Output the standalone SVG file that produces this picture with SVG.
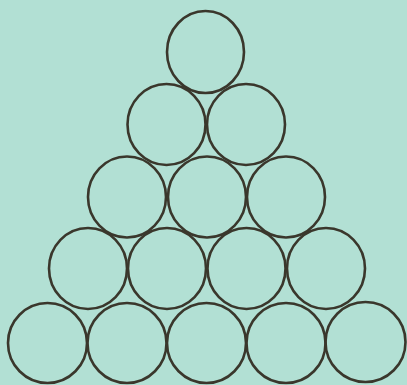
<svg xmlns="http://www.w3.org/2000/svg" width="407" height="385" viewBox="0 0 407 385">
<style>
.c{fill:none;stroke:#3a372c;stroke-width:2.6}
</style>
<rect width="407" height="385" fill="#b2e0d4"/>
<g id="row1"><ellipse class="c" cx="205.5" cy="52" rx="38.5" ry="41"/></g>
<g id="row2">
<ellipse class="c" cx="166.5" cy="124.5" rx="39" ry="40.5"/>
<ellipse class="c" cx="246" cy="124.5" rx="39" ry="40.5"/>
</g>
<g id="row3">
<ellipse class="c" cx="127" cy="197" rx="39" ry="40.5"/>
<ellipse class="c" cx="207" cy="197" rx="39" ry="40.5"/>
<ellipse class="c" cx="286" cy="197" rx="39" ry="40.5"/>
</g>
<g id="row4">
<ellipse class="c" cx="88" cy="268.5" rx="39" ry="40.5"/>
<ellipse class="c" cx="167" cy="268.5" rx="39" ry="40.5"/>
<ellipse class="c" cx="246.5" cy="268.5" rx="39" ry="40.5"/>
<ellipse class="c" cx="326" cy="268.5" rx="39" ry="40.5"/>
</g>
<g id="row5">
<ellipse class="c" cx="47.5" cy="343" rx="39.5" ry="40"/>
<ellipse class="c" cx="127" cy="343" rx="39.5" ry="40"/>
<ellipse class="c" cx="206.5" cy="343" rx="39.5" ry="40"/>
<ellipse class="c" cx="286" cy="343" rx="39.5" ry="40"/>
<ellipse class="c" cx="365.5" cy="342" rx="40" ry="40"/>
</g>
</svg>
